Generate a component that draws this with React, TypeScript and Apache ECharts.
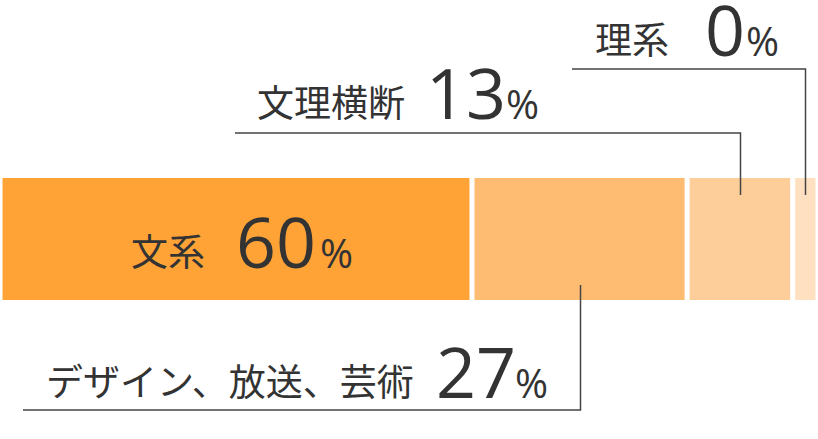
import React, { useEffect, useRef } from "react";
import * as echarts from "echarts";

// segment order, left to right
const CATEGORIES = ["文系", "デザイン、放送、芸術", "文理横断", "理系"];
// drawn widths of the segments (share of the bar)
const SHARES = [57.7, 26.3, 12.9, 3.1];
// printed percentages
const PCT_LABELS = ["60", "27", "13", "0"];
const COLORS = ["#FFA337", "#FEBB72", "#FECE9A", "#FFE1C2"];

// caption layout: name left edge, number right edge, % left edge, baseline
const CAPTION = [
  { name: 131, numRight: 316, pct: 320, base: 267 },
  { name: 46, numRight: 516, pct: 515, base: 397 },
  { name: 257, numRight: 506, pct: 506, base: 118 },
  { name: 595, numRight: 745, pct: 746, base: 55 },
];
// leader: horizontal start x and height; end inside bar
const LEADERS = [
  null,
  { fromX: 23, y: 410, inset: -15 },
  { fromX: 235, y: 133, inset: 17 },
  { fromX: 572, y: 69, inset: 17 },
];

const CJK = '"Noto Sans CJK JP", "Noto Sans", sans-serif';
const NUM = '"Open Sans", "Noto Sans", sans-serif';
const INK = "#333333";

export default function App() {
  const ref = useRef<HTMLDivElement>(null);

  useEffect(() => {
    document.body.style.margin = "0";
    if (!ref.current) return;
    const chart = echarts.init(ref.current, undefined, { renderer: "svg" });

    chart.setOption({
      animation: false,
      backgroundColor: "#ffffff",
      grid: { left: -1.5, right: -2.5, top: 175.5, height: 127 },
      xAxis: { type: "value", min: 0, max: 100, show: false },
      yAxis: { type: "category", data: [""], show: false },
      series: CATEGORIES.map((name, i) => ({
        name,
        type: "bar",
        stack: "total",
        barWidth: "100%",
        data: [SHARES[i]],
        itemStyle: { color: COLORS[i], borderColor: "#ffffff", borderWidth: 2.5 },
        silent: true,
      })),
    });

    const barTop = 178;
    const barBottom = 300;

    const graphic: any[] = [];
    let acc = 0;
    CATEGORIES.forEach((name, i) => {
      const mid = acc + SHARES[i] / 2;
      acc += SHARES[i];
      const [cx] = chart.convertToPixel({ gridIndex: 0 }, [mid, 0]) as number[];
      const lead = LEADERS[i];
      if (lead) {
        const endY = lead.inset < 0 ? barBottom + lead.inset : barTop + lead.inset;
        graphic.push({
          type: "polyline",
          z: 100,
          shape: { points: [[lead.fromX, lead.y], [Math.round(cx) + 0.5, lead.y], [Math.round(cx) + 0.5, endY]] },
          style: { stroke: "#444444", lineWidth: 1.5, fill: null },
          silent: true,
        });
      }
      const c = CAPTION[i];
      graphic.push(
        {
          type: "text",
          z: 100,
          x: c.name,
          y: c.base - 17.5,
          style: { text: name, font: `37px ${CJK}`, fill: INK, align: "left", verticalAlign: "middle", lineHeight: 40 },
          silent: true,
        },
        {
          type: "text",
          z: 100,
          x: c.numRight,
          y: c.base - 26,
          style: { text: PCT_LABELS[i], font: `70px ${NUM}`, fill: INK, align: "right", verticalAlign: "middle", lineHeight: 54 },
          silent: true,
        },
        {
          type: "text",
          z: 100,
          x: c.pct,
          y: c.base - 15,
          style: { text: "%", font: `40px ${NUM}`, fill: INK, align: "left", verticalAlign: "middle", lineHeight: 32 },
          silent: true,
        }
      );
    });
    chart.setOption({ graphic });

    return () => chart.dispose();
  }, []);

  return <div ref={ref} style={{ width: 818, height: 439 }} />;
}
